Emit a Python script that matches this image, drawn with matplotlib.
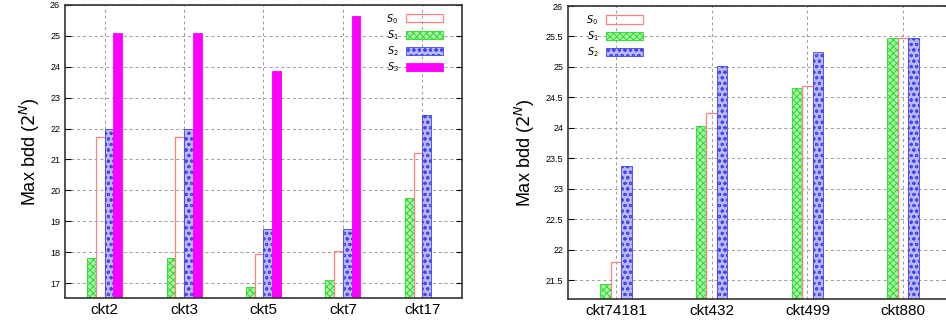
import numpy as np
import matplotlib.pyplot as plt
from matplotlib.ticker import FormatStrFormatter

# datos
circ_a = ["ckt2", "ckt3", "ckt5", "ckt7", "ckt17"]
s0_a = [21.74, 21.74, 17.95, 18.05, 21.2]
s1_a = [17.8, 17.8, 16.87, 17.1, 19.77]
s2_a = [22.0, 22.0, 18.75, 18.75, 22.45]
s3_a = [25.1, 25.1, 23.87, 25.63, 16.53]

circ_b = ["ckt74181", "ckt432", "ckt499", "ckt880"]
s0_b = [21.79, 24.24, 24.68, 25.47]
s1_b = [21.43, 24.03, 24.65, 25.47]
s2_b = [23.38, 25.02, 25.25, 25.47]

labels = ["$S_0$", "$S_1$", "$S_2$", "$S_3$"]

plt.rcParams['font.family'] = ['Liberation Sans', 'DejaVu Sans']
plt.rcParams['hatch.linewidth'] = 0.7

w = 0.11
fig = plt.figure(figsize=(9.46, 3.27), dpi=100)


def estilo(ax):
    ax.grid(True, linestyle=(0, (3, 3)), color='#999999', linewidth=0.7)
    ax.set_axisbelow(True)
    ax.tick_params(direction='in', top=True, right=True, length=4, width=0.8)
    ax.tick_params(axis='y', labelsize=6.5)
    ax.tick_params(axis='x', labelsize=11, length=0)
    for s in ax.spines.values():
        s.set_linewidth(1.2)
        s.set_color('#333333')
    ax.yaxis.set_major_formatter(FormatStrFormatter('%g'))
    ax.set_ylabel("Max bdd ($2^N$)", fontsize=13, labelpad=6)


def barras(ax, series, nombres):
    x = np.arange(len(nombres))
    n = len(series)
    # orden visual: verde, rojo, azul, magenta
    orden = [1, 0, 2, 3][:n]
    estilos = [
        dict(facecolor='none', edgecolor='#ff8080', linewidth=0.9),
        dict(facecolor='#b0f5b0', edgecolor='#22dd22', hatch='xxxxx', linewidth=0.6),
        dict(facecolor='#b8b8ff', edgecolor='#4444ee', hatch='ooo', linewidth=0.6),
        dict(facecolor='#ff00ff', edgecolor='#ff00ff', linewidth=0.6),
    ]
    hs = [None] * n
    for pos, k in enumerate(orden):
        off = (pos - (n - 1) / 2) * w
        hs[k] = ax.bar(x + off, series[k], w, bottom=0, **estilos[k])
    ax.set_xticks(x)
    ax.set_xticklabels(nombres)
    return hs


ax1 = fig.add_axes([0.0687, 0.0887, 0.4196, 0.8963])
h1 = barras(ax1, [s0_a, s1_a, s2_a, s3_a], circ_a)
ax1.set_xlim(-0.5, 4.5)
ax1.set_ylim(16.52, 26)
ax1.set_yticks(np.arange(17, 27, 1))
estilo(ax1)
ax1.legend(h1, labels, loc='upper right', frameon=False, markerfirst=False,
           fontsize=7, handlelength=3.8, handleheight=0.9, labelspacing=0.25,
           borderaxespad=0.3, handletextpad=0.8, bbox_to_anchor=(0.97, 1.0))

ax2 = fig.add_axes([0.6004, 0.0856, 0.4049, 0.8960])
h2 = barras(ax2, [s0_b, s1_b, s2_b], circ_b)
ax2.set_xlim(-0.5, 3.5)
ax2.set_ylim(21.19, 26)
ax2.set_yticks(np.arange(21.5, 26.01, 0.5))
estilo(ax2)
ax2.legend(h2, labels[:3], loc='upper left', frameon=False, markerfirst=False,
           fontsize=7, handlelength=3.8, handleheight=0.9, labelspacing=0.25,
           borderaxespad=0.3, handletextpad=0.8, bbox_to_anchor=(0.03, 1.0))

fig.savefig("out.png", dpi=100)
